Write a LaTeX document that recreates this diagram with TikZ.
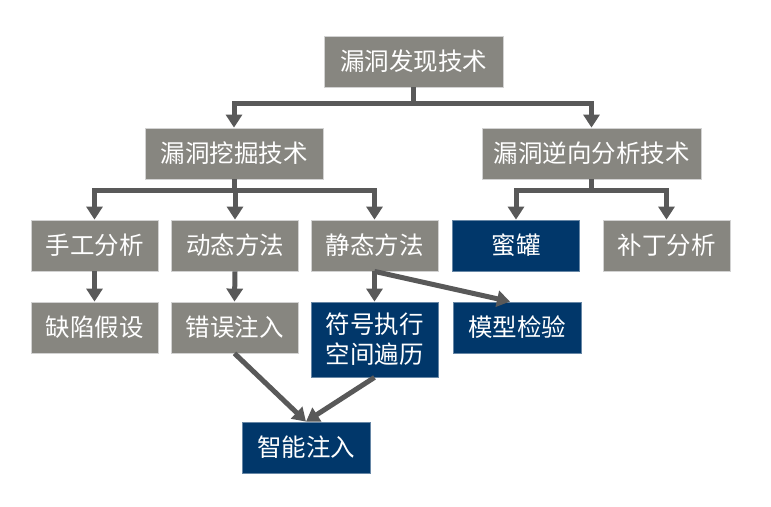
\documentclass[tikz,border=0pt]{standalone}
\usepackage{fontspec}
\newfontfamily\cjk{Noto Sans CJK SC}
\usetikzlibrary{arrows.meta}
\definecolor{boxgray}{RGB}{135,134,128}
\definecolor{boxblue}{RGB}{1,55,106}
\definecolor{arrgray}{RGB}{89,89,89}
\tikzset{
  box/.style={fill=boxgray,draw=gray!35,line width=0.8pt,text=white,minimum width=127pt,minimum height=51pt,inner sep=0pt,align=center,font=\cjk\fontsize{24.5}{30}\selectfont},
  bluebox/.style={box,fill=boxblue,draw=boxblue!60!white},
  arr/.style={draw=arrgray,line width=5pt,-{Triangle[width=16pt,length=13pt]}}
}
\begin{document}
\begin{tikzpicture}[x=1pt,y=-1pt]
\useasboundingbox (0,0) rectangle (771,506);
\node[box,minimum width=179pt] (top) at (413.5,61.5) {漏洞发现技术};
\node[box,minimum width=178pt] (mine) at (234,153.5) {漏洞挖掘技术};
\node[box,minimum width=219pt] (rev) at (591.5,153.5) {漏洞逆向分析技术};
\foreach \n/\x/\t in {manual/94.5/手工分析, dyn/235/动态方法, stat/374.5/静态方法, patch/666.5/补丁分析} % gray row
\node[box] (\n) at (\x,245.5) {\t};
\node[bluebox] (honey) at (516,245.5) {蜜罐};
\node[box] (fault) at (94.5,327.5) {缺陷假设};
\node[box] (errinj) at (234.5,327.5) {错误注入};
\node[bluebox,minimum height=75pt] (sym) at (374.5,339.5) {符号执行\\空间遍历};
\node[bluebox,minimum width=128pt] (model) at (517,327.5) {模型检验};
\node[bluebox,minimum width=128pt] (smart) at (306,447.5) {智能注入};
% tree arrows
\foreach \a/\b in {top/mine, top/rev}
\draw[arr] (\a.south) -- ++(0,16) -| (\b.north);
\foreach \b in {manual, dyn, stat}
\draw[arr] (mine.south) -- ++(0,11) -| (\b.north);
\foreach \b in {honey, patch}
\draw[arr] (rev.south) -- ++(0,11) -| (\b.north);
\foreach \a/\b in {manual/fault, dyn/errinj, stat/sym}
\draw[arr] (\a.south) -- (\b.north);
\draw[arr] (stat.south) -- ([xshift=-7pt]model.north);
\draw[arr] (errinj.south) -- (smart.north);
\draw[arr] (sym.south) -- (smart.north);
\end{tikzpicture}
\end{document}
